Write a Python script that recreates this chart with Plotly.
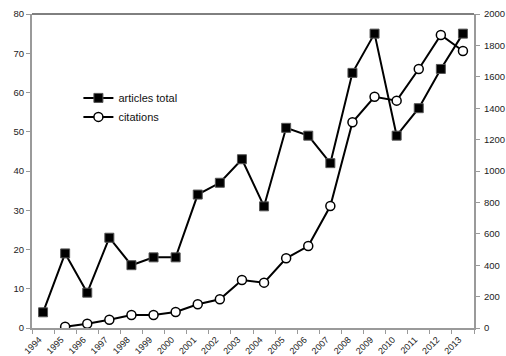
import plotly.graph_objects as go

years = [str(y) for y in range(1994, 2014)]
articles_total = [4, 19, 9, 23, 16, 18, 18, 34, 37, 43, 31, 51, 49, 42, 65, 75, 49, 56, 66, 75]
citation_years = [str(y) for y in range(1995, 2014)]
citations = [8, 27, 53, 83, 83, 102, 151, 183, 306, 289, 444, 522, 777, 1310, 1473, 1448, 1650, 1866, 1764]

FONT = "Liberation Sans, Arial, sans-serif"
AXIS_GRAY = "#9a9a9a"

fig = go.Figure()

fig.add_trace(go.Scatter(
    x=years, y=articles_total, name="articles total",
    mode="lines+markers",
    line=dict(color="black", width=2),
    marker=dict(symbol="square", size=9, color="black",
                line=dict(color="#555555", width=1)),
    yaxis="y",
))

fig.add_trace(go.Scatter(
    x=citation_years, y=citations, name="citations",
    mode="lines+markers",
    line=dict(color="black", width=2),
    marker=dict(symbol="circle", size=9, color="white",
                line=dict(color="black", width=1.5)),
    yaxis="y2",
))

fig.update_layout(
    width=506, height=356,
    margin=dict(l=32, r=32, t=14, b=28, autoexpand=False),
    paper_bgcolor="white", plot_bgcolor="white",
    font=dict(family=FONT, size=9, color="#222222"),
    showlegend=True,
    legend=dict(
        x=0.105, y=0.779, xanchor="left", yanchor="top",
        bgcolor="rgba(0,0,0,0)", itemwidth=30,
        font=dict(family=FONT, size=11, color="#111111"),
        tracegroupgap=0, itemsizing="trace",
    ),
    xaxis=dict(
        type="category", categoryorder="array", categoryarray=years,
        range=[-0.5, len(years) - 0.5],
        showline=True, linecolor=AXIS_GRAY, linewidth=2,
        ticks="outside", tickson="boundaries", ticklen=4, tickcolor=AXIS_GRAY,
        tickangle=-45, ticklabelstandoff=1, ticklabelshift=-4,
        showgrid=False, zeroline=False,
        tickfont=dict(size=9),
    ),
    yaxis=dict(
        range=[0, 80], dtick=10, showline=True, linecolor=AXIS_GRAY, linewidth=2,
        ticks="outside", ticklen=4, tickcolor=AXIS_GRAY,
        showgrid=False, zeroline=False, tickfont=dict(size=9.5),
    ),
    yaxis2=dict(
        range=[0, 2000], dtick=200, overlaying="y", side="right",
        showline=True, linecolor=AXIS_GRAY, linewidth=2,
        ticks="outside", ticklen=4, tickcolor=AXIS_GRAY, ticklabelstandoff=2,
        showgrid=False, zeroline=False, tickfont=dict(size=9.5),
    ),
    shapes=[dict(type="line", xref="paper", yref="paper", x0=0, x1=1, y0=1, y1=1,
                 line=dict(color="black", width=1))],
)

fig.write_html("out.html")
